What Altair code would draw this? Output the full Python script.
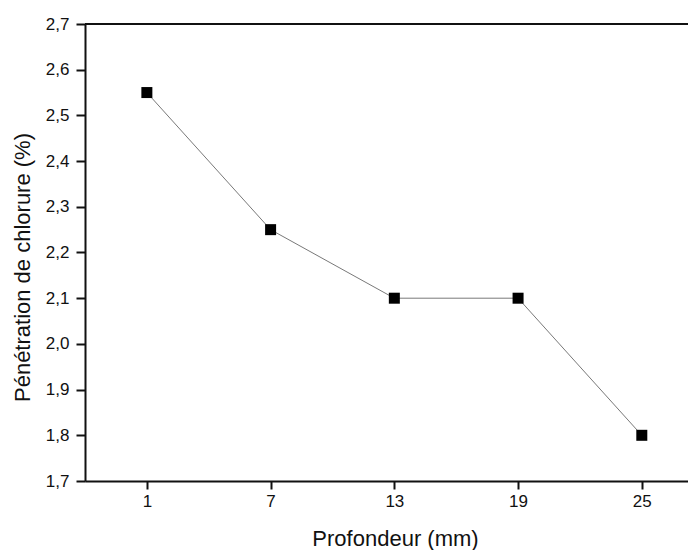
import altair as alt
import pandas as pd

profondeur = [1, 7, 13, 19, 25]
penetration = [2.55, 2.25, 2.10, 2.10, 1.80]
x_ticks = [1, 7, 13, 19, 25]
y_ticks = [1.7, 1.8, 1.9, 2.0, 2.1, 2.2, 2.3, 2.4, 2.5, 2.6, 2.7]
x_domain = [-2, 27.24]
y_domain = [1.7, 2.7]

df = pd.DataFrame({"Profondeur": profondeur, "Penetration": penetration})

font = "Liberation Sans"
ink = "#111111"

x = alt.X(
    "Profondeur:Q",
    scale=alt.Scale(domain=x_domain, nice=False, zero=False),
    axis=alt.Axis(
        values=x_ticks,
        title="Profondeur (mm)",
        titleFont=font, titleFontSize=22, titleFontWeight="normal", titleColor=ink,
        titleX=310, titleY=57, titleBaseline="middle", titleAlign="center",
        labelFont=font, labelFontSize=17, labelColor=ink, labelPadding=4,
        tickSize=8, tickColor=ink, tickWidth=2,
        domainColor=ink, domainWidth=2, grid=False,
    ),
)
y = alt.Y(
    "Penetration:Q",
    scale=alt.Scale(domain=y_domain, nice=False, zero=False),
    axis=alt.Axis(
        values=y_ticks,
        labelExpr="replace(format(datum.value, '.1f'), '.', ',')",
        title="Pénétration de chlorure (%)",
        titleFont=font, titleFontSize=22, titleFontWeight="normal", titleColor=ink,
        titleX=-63, titleY=243, titleBaseline="middle", titleAlign="center",
        labelFont=font, labelFontSize=17, labelColor=ink, labelPadding=7,
        tickSize=9, tickColor=ink, tickWidth=2,
        domainColor=ink, domainWidth=2, grid=False,
    ),
)

top_line = alt.Chart(df).mark_rule(color=ink, strokeWidth=2).encode(
    y=alt.datum(2.7, scale=alt.Scale(domain=y_domain, nice=False, zero=False))
)
line = alt.Chart(df).mark_line(color="#555555", strokeWidth=0.8).encode(x=x, y=y)
points = alt.Chart(df).mark_square(size=121, color="black", opacity=1, filled=True).encode(x=x, y=y)

chart = (
    alt.layer(line, points, top_line)
    .properties(
        width=603,
        height=457,
        autosize=alt.AutoSizeParams(type="none"),
        padding={"left": 77, "top": 16, "right": 0, "bottom": 90},
    )
    .configure_view(stroke=None)
    .configure(background="white")
)

chart.save("out.html", embed_options={"renderer": "svg", "actions": False})
